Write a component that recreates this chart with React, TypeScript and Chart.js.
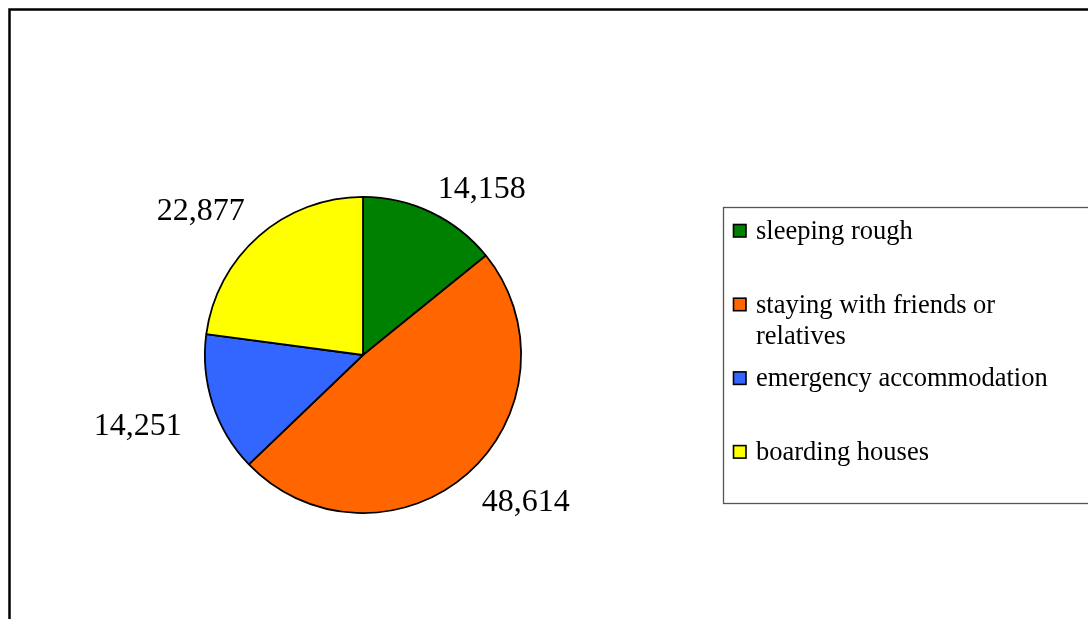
import React, { useEffect, useRef } from "react";
import { Chart, registerables } from "chart.js";

Chart.register(...registerables);

const categories = [
  "sleeping rough",
  "staying with friends or relatives",
  "emergency accommodation",
  "boarding houses",
];
const values = [14158, 48614, 14251, 22877];
const valueLabels = ["14,158", "48,614", "14,251", "22,877"];
const colors = ["#008000", "#FF6600", "#3366FF", "#FFFF00"];

const FONT = '"Liberation Serif", "Times New Roman", serif';

const framePlugin = {
  id: "frame",
  beforeDraw(chart: any) {
    const ctx = chart.ctx;
    ctx.save();
    ctx.fillStyle = "#ffffff";
    ctx.fillRect(0, 0, chart.width, chart.height);
    ctx.strokeStyle = "#000000";
    ctx.lineWidth = 2.5;
    ctx.strokeRect(9.5, 9.5, chart.width + 50, chart.height + 50);
    ctx.restore();
  },
};

const labelPlugin = {
  id: "outerLabels",
  afterDatasetsDraw(chart: any) {
    const ctx = chart.ctx;
    const meta = chart.getDatasetMeta(0);
    ctx.save();
    ctx.font = `32px ${FONT}`;
    ctx.fillStyle = "#000000";
    ctx.textBaseline = "alphabetic";
    meta.data.forEach((arc: any, i: number) => {
      const p = arc.getProps(["x", "y", "startAngle", "endAngle", "outerRadius"], true);
      const mid = (p.startAngle + p.endAngle) / 2;
      const c = Math.cos(mid);
      const s = Math.sin(mid);
      const d = p.outerRadius + 11 + 24 * c * c;
      const px = p.x + d * c;
      const py = p.y + d * s;
      const text = valueLabels[i];
      const w = ctx.measureText(text).width;
      const h = 21;
      const left = c >= 0 ? px : px - w;
      const base = s < 0 ? py : py + h;
      ctx.textAlign = "left";
      ctx.fillText(text, left, base);
    });
    ctx.restore();
  },
};

const legendPlugin = {
  id: "boxLegend",
  afterDraw(chart: any) {
    const ctx = chart.ctx;
    ctx.save();
    ctx.strokeStyle = "#555555";
    ctx.lineWidth = 1.3;
    ctx.strokeRect(723.5, 207.5, 500, 296);
    ctx.font = `26.5px ${FONT}`;
    ctx.textBaseline = "alphabetic";
    ctx.textAlign = "left";
    const maxW = 300;
    const firstBase = 239;
    const slot = 73.7;
    categories.forEach((cat, i) => {
      const base = firstBase + i * slot;
      ctx.fillStyle = colors[i];
      ctx.fillRect(733.5, base - 14.5, 12.5, 12.5);
      ctx.strokeStyle = "#000000";
      ctx.lineWidth = 1.6;
      ctx.strokeRect(733.5, base - 14.5, 12.5, 12.5);
      const words = cat.split(" ");
      const lines: string[] = [];
      let cur = "";
      words.forEach((wd) => {
        const t = cur ? cur + " " + wd : wd;
        if (ctx.measureText(t).width > maxW && cur) {
          lines.push(cur);
          cur = wd;
        } else cur = t;
      });
      if (cur) lines.push(cur);
      ctx.fillStyle = "#000000";
      lines.forEach((ln, j) => ctx.fillText(ln, 756, base + j * 31));
    });
    ctx.restore();
  },
};

export default function App() {
  const ref = useRef<HTMLCanvasElement>(null);
  useEffect(() => {
    if (!ref.current) return;
    const chart = new Chart(ref.current, {
      type: "pie",
      data: {
        labels: categories,
        datasets: [
          {
            data: values,
            backgroundColor: colors,
            borderColor: "#000000",
            borderWidth: 1.8,
          },
        ],
      },
      options: {
        responsive: false,
        animation: false,
        devicePixelRatio: 1,
        layout: { padding: { left: 204, right: 566, top: 196, bottom: 105 } },
        plugins: {
          legend: { display: false },
          tooltip: { enabled: false },
        },
      },
      plugins: [framePlugin, labelPlugin, legendPlugin],
    });
    return () => chart.destroy();
  }, []);
  return (
    <div style={{ position: "fixed", left: 0, top: 0, width: 1088, height: 619, background: "#fff" }}>
      <canvas ref={ref} width={1088} height={619} style={{ display: "block", width: 1088, height: 619 }} />
    </div>
  );
}
